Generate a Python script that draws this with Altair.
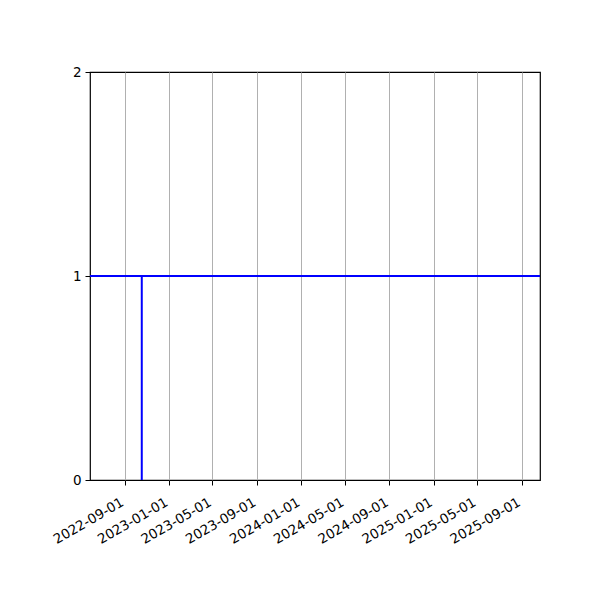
import altair as alt
import pandas as pd

# series: horizontal level (segment "h") and vertical step (segment "v")
seg = ["h", "h", "v", "v"]
dates = ["2022-05-28", "2025-10-22", "2022-10-18", "2022-10-18"]
values = [1, 1, 0, 1]
order = [0, 1, 0, 1]

x_domain = ["2022-05-28", "2025-10-22"]
tick_dates = ["2022-09-01", "2023-01-01", "2023-05-01", "2023-09-01", "2024-01-01",
              "2024-05-01", "2024-09-01", "2025-01-01", "2025-05-01", "2025-09-01"]
y_ticks = [0, 1, 2]

df = pd.DataFrame({"seg": seg, "date": dates, "value": values, "ord": order})

tick_ms = [int(pd.Timestamp(d).value // 10**6) for d in tick_dates]

x_scale = alt.Scale(domain=[pd.Timestamp(x_domain[0]).isoformat(), pd.Timestamp(x_domain[1]).isoformat()], nice=False)
y_scale = alt.Scale(domain=[0, 2], nice=False, zero=False)

x_axis = alt.Axis(values=tick_ms, format="%Y-%m-%d", labelAngle=-30, labelAlign="right",
                  labelBaseline="top", grid=True, gridColor="#b0b0b0", gridWidth=1,
                  title=None, tickSize=5, labelPadding=10, labelOffset=-6, domain=False,
                  labelOverlap=False, labelFlush=False, labelBound=False)
y_axis = alt.Axis(values=y_ticks, tickCount=3, format=".0f", grid=False, title=None, tickSize=5,
                  labelPadding=4, domain=False, labelOverlap=False, labelFlush=False,
                  labelBound=False)

chart = alt.Chart(df).mark_line(color="#0000ff", strokeWidth=2, clip=True).encode(
    x=alt.X("date:T", scale=x_scale, axis=x_axis),
    y=alt.Y("value:Q", scale=y_scale, axis=y_axis),
    detail="seg:N",
    order="ord:Q",
).properties(
    width=450, height=408,
    autosize=alt.AutoSizeParams(type="none"),
    padding={"left": 82, "top": 64, "right": 52, "bottom": 112},
).configure_view(stroke="black", strokeWidth=1.2).configure_axis(
    labelFont="DejaVu Sans", labelFontSize=13.5, labelColor="black",
    tickColor="black", tickWidth=1, labelOverlap=False,
)

chart.save("out.html", embed_options={"renderer": "svg", "actions": False})
